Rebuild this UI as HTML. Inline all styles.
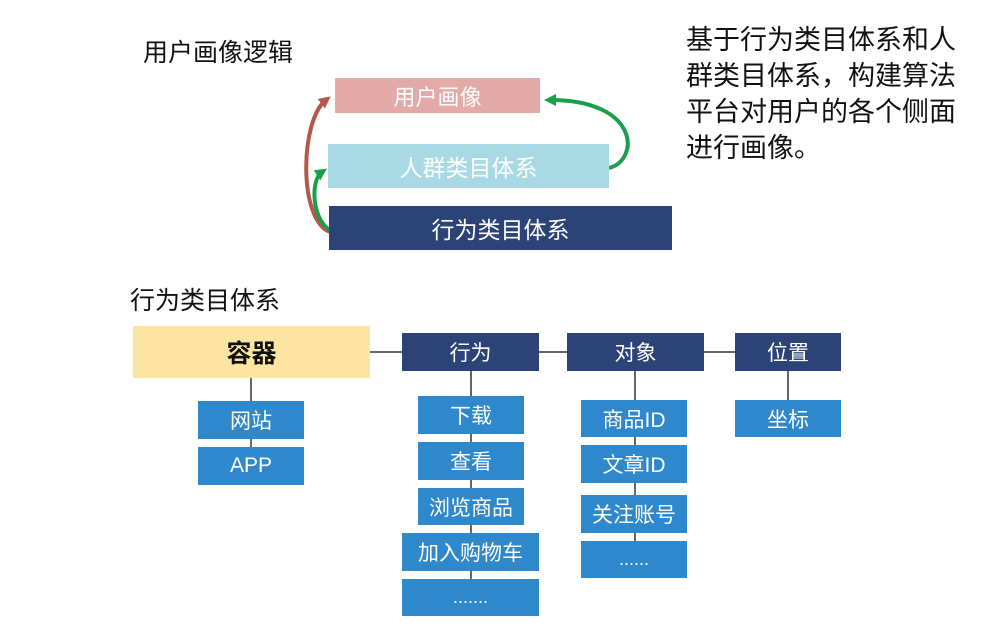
<!DOCTYPE html>
<html><head><meta charset="utf-8"><style>
body{margin:0;width:1000px;height:632px;background:#fff;position:relative;overflow:hidden;font-family:"Liberation Sans","Noto Sans CJK SC",sans-serif}
.b{position:absolute;display:flex;align-items:center;justify-content:center;color:#fff;font-size:21px;box-sizing:border-box}
.n{background:#2b4377}.l{background:#2f88cb}
.t{position:absolute;color:#111;font-size:25px;white-space:nowrap}
svg{position:absolute;left:0;top:0}
</style></head><body>
<svg width="1000" height="632">
<defs>
<marker id="ar" markerWidth="12" markerHeight="12" refX="6" refY="6" orient="auto" markerUnits="userSpaceOnUse"><path d="M0,0 L12,6 L0,12 Z" fill="#b4584c"/></marker>
<marker id="ag" markerWidth="12" markerHeight="12" refX="6" refY="6" orient="auto" markerUnits="userSpaceOnUse"><path d="M0,0 L12,6 L0,12 Z" fill="#1aa04b"/></marker>
</defs>
<g stroke="#333" stroke-width="1.5">
<line x1="370" y1="352" x2="402" y2="352"/><line x1="539" y1="352" x2="567" y2="352"/><line x1="704" y1="352" x2="735" y2="352"/>
<line x1="251" y1="378" x2="251" y2="466"/>
<line x1="471" y1="371" x2="471" y2="598"/>
<line x1="635" y1="371" x2="635" y2="560"/>
<line x1="788" y1="371" x2="788" y2="420"/>
</g>
<path d="M330,232 C298,220 300,120 326,100" stroke="#b4584c" stroke-width="4" fill="none" marker-end="url(#ar)"/>
<path d="M330,230 C312,220 310,180 322,172" stroke="#1aa04b" stroke-width="4" fill="none" marker-end="url(#ag)"/>
<path d="M609,168 C640,160 640,100 550,100" stroke="#1aa04b" stroke-width="4" fill="none" marker-end="url(#ag)"/>
</svg>
<div class="t" style="left:143px;top:33px">用户画像逻辑</div>
<div class="t" style="left:130px;top:281px">行为类目体系</div>
<div class="t" style="left:686px;top:22px;font-size:27px;line-height:36px">基于行为类目体系和人<br>群类目体系，构建算法<br>平台对用户的各个侧面<br>进行画像。</div>
<div class="b" style="left:335px;top:78px;width:205px;height:35px;background:#e3aaa7;font-size:22px">用户画像</div>
<div class="b" style="left:328px;top:144px;width:281px;height:44px;background:#a9d9e4;font-size:23px">人群类目体系</div>
<div class="b n" style="left:329px;top:206px;width:343px;height:44px;font-size:23px">行为类目体系</div>
<div class="b" style="left:133px;top:326px;width:237px;height:52px;background:#fce5a0;color:#111;font-weight:bold;font-size:25px">容器</div>
<div class="b n" style="left:402px;top:333px;width:137px;height:38px">行为</div>
<div class="b n" style="left:567px;top:333px;width:137px;height:38px">对象</div>
<div class="b n" style="left:735px;top:333px;width:106px;height:38px">位置</div>
<div class="b l" style="left:198px;top:401px;width:106px;height:38px">网站</div>
<div class="b l" style="left:198px;top:447px;width:106px;height:38px">APP</div>
<div class="b l" style="left:418px;top:396px;width:106px;height:38px">下载</div>
<div class="b l" style="left:418px;top:442px;width:106px;height:38px">查看</div>
<div class="b l" style="left:418px;top:488px;width:106px;height:37px">浏览商品</div>
<div class="b l" style="left:402px;top:533px;width:137px;height:38px">加入购物车</div>
<div class="b l" style="left:402px;top:579px;width:137px;height:37px;font-size:18px">.......</div>
<div class="b l" style="left:581px;top:400px;width:106px;height:37px">商品ID</div>
<div class="b l" style="left:581px;top:445px;width:106px;height:38px">文章ID</div>
<div class="b l" style="left:581px;top:495px;width:106px;height:38px">关注账号</div>
<div class="b l" style="left:581px;top:541px;width:106px;height:37px;font-size:18px">......</div>
<div class="b l" style="left:735px;top:400px;width:106px;height:37px">坐标</div>
</body></html>
